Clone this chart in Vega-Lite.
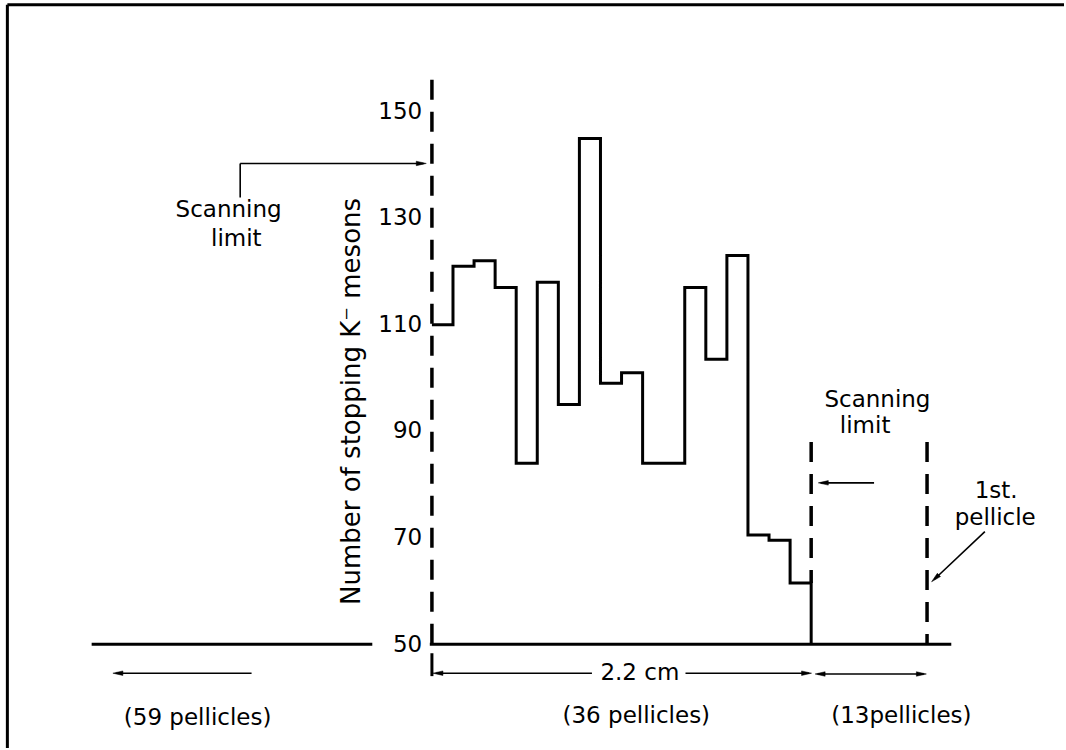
{
  "$schema": "https://vega.github.io/schema/vega-lite/v6.json",
  "width": 1066,
  "height": 750,
  "padding": 0,
  "autosize": {"type": "fit", "contains": "padding"},
  "background": "white",
  "config": {"view": {"stroke": null}},
  "datasets": {
    "hist": [
      {"x": 0, "v": 110}, {"x": 2, "v": 121}, {"x": 4, "v": 122}, {"x": 6, "v": 117},
      {"x": 8, "v": 84}, {"x": 10, "v": 118}, {"x": 12, "v": 95}, {"x": 14, "v": 145},
      {"x": 16, "v": 99}, {"x": 18, "v": 101}, {"x": 20, "v": 84}, {"x": 24, "v": 117},
      {"x": 26, "v": 103.5}, {"x": 28, "v": 123}, {"x": 30, "v": 70.5}, {"x": 32, "v": 69.5},
      {"x": 34, "v": 61.5}, {"x": 36, "v": 61.5}, {"x": 36, "v": 50}
    ],
    "solid": [
      {"x": -32.3, "x2": -5.66, "v": 50, "v2": 50},
      {"x": -0.2, "x2": 49.3, "v": 50, "v2": 50},
      {"x": 0, "x2": 0, "v": 48.3, "v2": 44.0},
      {"x": -40.3, "x2": -40.3, "v": 170.1, "v2": 30.5},
      {"x": -40.3, "x2": 60, "v": 170.1, "v2": 170.1}
    ],
    "dashed": [
      {"x": 0, "x2": 0, "v": 156, "v2": 50},
      {"x": 36, "x2": 36, "v": 88, "v2": 61.5},
      {"x": 47, "x2": 47, "v": 88, "v2": 50}
    ],
    "thin": [
      {"x": -18.2, "x2": -18.2, "v": 133.9, "v2": 140.3},
      {"x": -18.2, "x2": -0.8, "v": 140.3, "v2": 140.3},
      {"x": 41.97, "x2": 36.9, "v": 80.3, "v2": 80.3},
      {"x": 52.49, "x2": 47.7, "v": 71.15, "v2": 62.2},
      {"x": 0.4, "x2": 15.19, "v": 44.55, "v2": 44.55},
      {"x": 24.07, "x2": 35.8, "v": 44.55, "v2": 44.55},
      {"x": 36.6, "x2": 46.7, "v": 44.4, "v2": 44.4},
      {"x": -17.12, "x2": -30.0, "v": 44.55, "v2": 44.55}
    ],
    "headsRight": [
      {"x": -1.01, "v": 140.3},
      {"x": 35.56, "v": 44.55},
      {"x": 46.46, "v": 44.4}
    ],
    "headsLeft": [
      {"x": 37.15, "v": 80.3},
      {"x": 0.57, "v": 44.55},
      {"x": 36.85, "v": 44.4},
      {"x": -29.81, "v": 44.55}
    ],
    "headsDiag": [
      {"x": 47.78, "v": 62.37}
    ],
    "ticks": [
      {"x": -0.92, "v": 150, "label": "150"},
      {"x": -0.92, "v": 130, "label": "130"},
      {"x": -0.92, "v": 110, "label": "110"},
      {"x": -0.92, "v": 90, "label": "90"},
      {"x": -0.92, "v": 70, "label": "70"},
      {"x": -0.92, "v": 49.8, "label": "50"}
    ],
    "labels": [
      {"x": -19.3, "v": 131.6, "label": "Scanning"},
      {"x": -18.57, "v": 126.2, "label": "limit"},
      {"x": 42.29, "v": 95.8, "label": "Scanning"},
      {"x": 41.12, "v": 90.9, "label": "limit"},
      {"x": 53.56, "v": 78.7, "label": "1st."},
      {"x": 53.47, "v": 73.7, "label": "pellicle"},
      {"x": 19.74, "v": 44.55, "label": "2.2 cm"},
      {"x": -22.24, "v": 36.12, "label": "(59 pellicles)"},
      {"x": 19.4, "v": 36.5, "label": "(36 pellicles)"},
      {"x": 44.56, "v": 36.5, "label": "(13pellicles)"}
    ],
    "ytitle": [
      {"x": -7.55, "v": 95.6, "label": "Number of stopping K⁻ mesons"}
    ]
  },
  "encoding": {
    "x": {"field": "x", "type": "quantitative", "scale": {"domain": [-41, 60], "nice": false, "zero": false}, "axis": null},
    "y": {"field": "v", "type": "quantitative", "scale": {"domain": [30.5, 171], "nice": false, "zero": false}, "axis": null}
  },
  "layer": [
    {
      "data": {"name": "solid"},
      "mark": {"type": "rule", "stroke": "black", "strokeWidth": 3},
      "encoding": {"x2": {"field": "x2"}, "y2": {"field": "v2"}}
    },
    {
      "data": {"name": "dashed"},
      "mark": {"type": "rule", "stroke": "black", "strokeWidth": 3.5, "strokeDash": [20, 12]},
      "encoding": {"x2": {"field": "x2"}, "y2": {"field": "v2"}}
    },
    {
      "data": {"name": "thin"},
      "mark": {"type": "rule", "stroke": "black", "strokeWidth": 1.6},
      "encoding": {"x2": {"field": "x2"}, "y2": {"field": "v2"}}
    },
    {
      "data": {"name": "hist"},
      "mark": {"type": "line", "interpolate": "step-after", "stroke": "black", "strokeWidth": 3, "strokeJoin": "miter"},
      "encoding": {"order": {"value": null}}
    },
    {
      "data": {"name": "headsRight"},
      "mark": {"type": "point", "shape": "M1,0L-1,-0.45L-1,0.45Z", "filled": true, "fill": "black", "stroke": "black", "strokeWidth": 0.5, "size": 100, "angle": 0, "opacity": 1}
    },
    {
      "data": {"name": "headsLeft"},
      "mark": {"type": "point", "shape": "M1,0L-1,-0.45L-1,0.45Z", "filled": true, "fill": "black", "stroke": "black", "strokeWidth": 0.5, "size": 100, "angle": 180, "opacity": 1}
    },
    {
      "data": {"name": "headsDiag"},
      "mark": {"type": "point", "shape": "M1,0L-1,-0.45L-1,0.45Z", "filled": true, "fill": "black", "stroke": "black", "strokeWidth": 0.5, "size": 100, "angle": 137, "opacity": 1}
    },
    {
      "data": {"name": "ticks"},
      "mark": {"type": "text", "align": "right", "baseline": "middle", "font": "DejaVu Sans", "fontSize": 23, "color": "black"},
      "encoding": {"text": {"field": "label"}}
    },
    {
      "data": {"name": "labels"},
      "mark": {"type": "text", "align": "center", "baseline": "middle", "font": "DejaVu Sans", "fontSize": 23, "color": "black"},
      "encoding": {"text": {"field": "label"}}
    },
    {
      "data": {"name": "ytitle"},
      "mark": {"type": "text", "align": "center", "baseline": "middle", "angle": 270, "font": "DejaVu Sans", "fontSize": 26, "color": "black"},
      "encoding": {"text": {"field": "label"}}
    }
  ]
}
